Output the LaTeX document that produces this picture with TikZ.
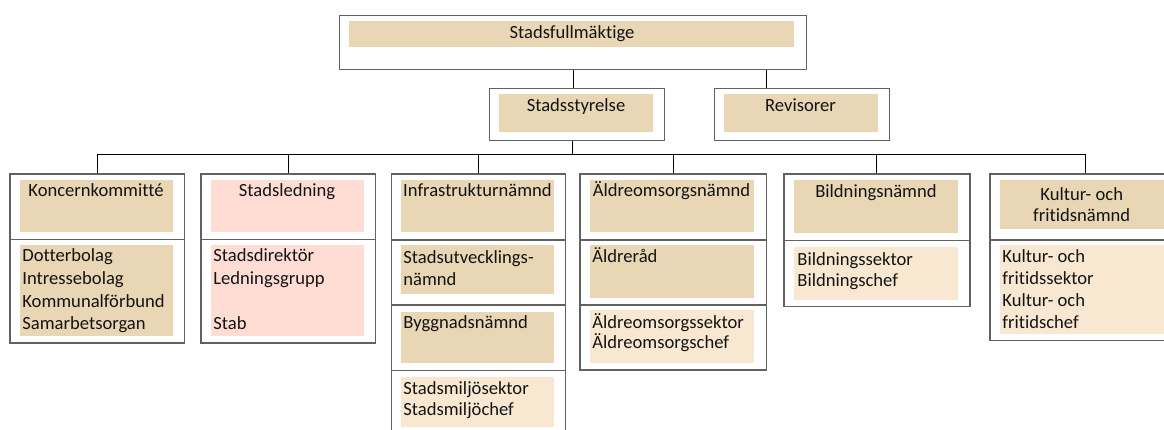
\documentclass[tikz,border=0pt]{standalone}
\usepackage{fontspec}
\setmainfont{Carlito}[Ligatures=NoCommon]
\usetikzlibrary{calc}
\definecolor{tanfill}{HTML}{E8D6B5}
\definecolor{pinkfill}{HTML}{FFDDD5}
\definecolor{creamfill}{HTML}{F8E8D1}
\tikzset{every picture/.style={line width=0.75pt}}
\tikzset{
  frame/.style={draw=black!62, line width=1.3pt, anchor=north west, inner sep=0pt},
  tanbox/.style={fill=tanfill, anchor=north west, inner sep=0pt},
  pinkbox/.style={fill=pinkfill, anchor=north west, inner sep=0pt},
  creambox/.style={fill=creamfill, anchor=north west, inner sep=0pt},
  title/.style={font=\fontsize{18.6}{21.3}\selectfont, inner sep=0pt, anchor=base, align=center, text=black!92},
  lines/.style={font=\fontsize{18.6}{22}\selectfont, inner sep=0pt, anchor=base west, align=left, text=black!92},
  link/.style={line width=1pt, black}
}
\begin{document}
\begin{tikzpicture}[x=1pt,y=1pt,yscale=-1]
	\useasboundingbox (0,0) rectangle (1164,430);
	% multi-line texts are placed by the baseline of their last line

	%Shape: Rectangle [Stadsfullmäktige]
	\node[frame, minimum width=467, minimum height=54] (sfm) at (339,15) {};
	\node[tanbox, minimum width=445.4, minimum height=26] (sfmf) at (348.6,21) {};
	% Text Node
	\node[title] (sfmt) at (572,38.6) {Stadsfullmäktige};

	%Shape: Rectangle [Stadsstyrelse]
	\node[frame, minimum width=175, minimum height=52] (styr) at (489,88) {};
	\node[tanbox, minimum width=153.5, minimum height=38] (styrf) at (499,94) {};
	% Text Node
	\node[title] (styrt) at (576,112) {Stadsstyrelse};

	%Shape: Rectangle [Revisorer]
	\node[frame, minimum width=175, minimum height=52] (rev) at (714,88) {};
	\node[tanbox, minimum width=153.5, minimum height=38] (revf) at (724,94) {};
	% Text Node
	\node[title] (revt) at (800.5,112) {Revisorer};

	%Shape: Column [Koncernkommitté]
	\node[frame, minimum width=174.4, minimum height=65.5] (kk) at (9.3,173.5) {};
	\node[frame, minimum width=174.4, minimum height=103.3] (kkb) at (9.3,239) {};
	\node[tanbox, minimum width=153.7, minimum height=52] (kkf) at (19.3,180) {};
	\node[tanbox, minimum width=153.7, minimum height=90.7] (kkbf) at (19.3,245) {};
	% Text Node
	\node[title] (kkt) at (96,197) {Koncernkommitté};
	\node[lines, font=\fontsize{18.6}{22.6}\selectfont] (kkbt) at (22,329.6) {Dotterbolag\\Intressebolag\\Kommunalförbund\\Samarbetsorgan};

	%Shape: Column [Stadsledning]
	\node[frame, minimum width=174.7, minimum height=65.5] (sl) at (200.3,173.5) {};
	\node[frame, minimum width=174.7, minimum height=103.3] (slb) at (200.3,239) {};
	\node[pinkbox, minimum width=153.3, minimum height=52] (slf) at (210.7,180) {};
	\node[pinkbox, minimum width=153.3, minimum height=90.7] (slbf) at (210.7,245) {};
	% Text Node
	\node[title] (slt) at (287,197) {Stadsledning};
	\node[lines, font=\fontsize{18.6}{22.6}\selectfont] (slbt) at (213,329.6) {Stadsdirektör\\Ledningsgrupp\\[22.6pt]Stab};

	%Shape: Column [Infrastrukturnämnd]
	\node[frame, minimum width=174, minimum height=65.8] (in) at (391,173.5) {};
	\node[frame, minimum width=174, minimum height=65] (inb) at (391,239.3) {};
	\node[frame, minimum width=174, minimum height=65.4] (inc) at (391,304.3) {};
	\node[frame, minimum width=174, minimum height=70] (ind) at (391,369.7) {};
	\node[tanbox, minimum width=153.3, minimum height=52] (inf) at (400.7,180) {};
	\node[tanbox, minimum width=153.3, minimum height=49] (inbf) at (400.7,245) {};
	\node[tanbox, minimum width=153.3, minimum height=50.6] (incf) at (400.7,311.7) {};
	\node[creambox, minimum width=153.3, minimum height=50] (indf) at (400.7,376.7) {};
	% Text Node
	\node[title] (int) at (477.4,197) {Infrastrukturnämnd};
	\node[lines] (inbt) at (403,285.8) {Stadsutvecklings-\\nämnd};
	\node[lines] (inct) at (403,328.7) {Byggnadsnämnd};
	\node[lines, font=\fontsize{18.6}{21}\selectfont] (indt) at (403,415.6) {Stadsmiljösektor\\Stadsmiljöchef};

	%Shape: Column [Äldreomsorgsnämnd]
	\node[frame, minimum width=186.4, minimum height=65.8] (al) at (579.3,173.5) {};
	\node[frame, minimum width=186.4, minimum height=65] (alb) at (579.3,239.3) {};
	\node[frame, minimum width=186.4, minimum height=65] (alc) at (579.3,304.3) {};
	\node[tanbox, minimum width=164.4, minimum height=52] (alf) at (589.3,180) {};
	\node[tanbox, minimum width=164.4, minimum height=52.3] (albf) at (589.3,245) {};
	\node[creambox, minimum width=164.4, minimum height=52.3] (alcf) at (589.3,310) {};
	% Text Node
	\node[title] (alt) at (671.5,197) {Äldreomsorgsnämnd};
	\node[lines] (albt) at (592,262.6) {Äldreråd};
	\node[lines, font=\fontsize{18.6}{20.5}\selectfont] (alct) at (592,348.6) {Äldreomsorgssektor\\Äldreomsorgschef};

	%Shape: Column [Bildningsnämnd]
	\node[frame, minimum width=186, minimum height=66.5] (bi) at (783.3,173.5) {};
	\node[frame, minimum width=186, minimum height=66] (bib) at (783.3,240) {};
	\node[tanbox, minimum width=164, minimum height=52.7] (bif) at (793.3,180) {};
	\node[creambox, minimum width=164, minimum height=52.6] (bibf) at (793.3,246.7) {};
	% Text Node
	\node[title] (bit) at (876,197.4) {Bildningsnämnd};
	\node[lines, font=\fontsize{18.6}{21.3}\selectfont] (bibt) at (797,286.4) {Bildningssektor\\Bildningschef};

	%Shape: Column [Kultur- och fritidsnämnd]
	\node[frame, minimum width=191.4, minimum height=65.8] (ku) at (989.3,173.5) {};
	\node[frame, minimum width=191.4, minimum height=100.7] (kub) at (989.3,239.3) {};
	\node[tanbox, minimum width=171.4, minimum height=49.4] (kuf) at (999.3,179.3) {};
	\node[creambox, minimum width=171.4, minimum height=88.3] (kubf) at (999.3,245) {};
	% Text Node
	\node[title] (kut) at (1081.7,221.6) {Kultur- och\\fritidsnämnd};
	\node[lines] (kubt) at (1002,328.6) {Kultur- och\\fritidssektor\\Kultur- och\\fritidschef};

	%Straight Lines [connectors]
	\coordinate (bar) at (572.5,155);
	\coordinate (revtop) at ($(rev.north west)!0.297!(rev.north east)$);
	\draw[link] (sfm.south) -- (sfm.south |- styr.north);
	\draw[link] (revtop |- sfm.south) -- (revtop);
	\draw[link] (styr.south -| bar) -- (bar);
	\draw[link] (bar -| kk.north) -- (bar -| ku.north);
	\foreach \col in {kk,sl,in,al,bi,ku}
		\draw[link] (bar -| \col.north) -- (\col.north);

\end{tikzpicture}
\end{document}
